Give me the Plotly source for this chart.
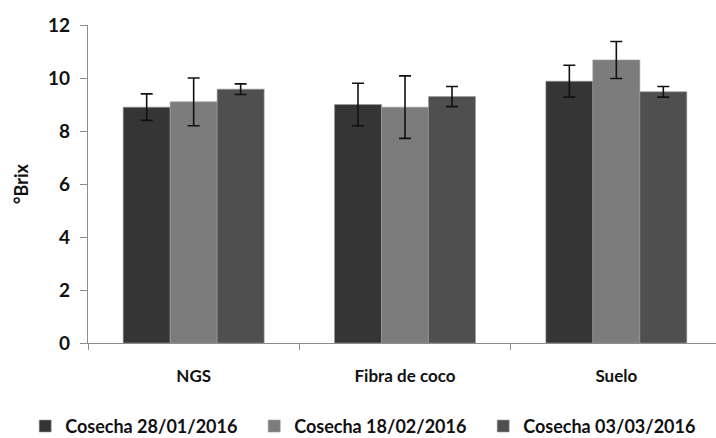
import plotly.graph_objects as go

# Sugar content (°Brix) by growing medium and harvest date
categories = ["NGS", "Fibra de coco", "Suelo"]
series_names = ["Cosecha 28/01/2016", "Cosecha 18/02/2016", "Cosecha 03/03/2016"]
values = [
    [8.9, 9.0, 9.88],
    [9.1, 8.9, 10.68],
    [9.58, 9.3, 9.48],
]
errors = [
    [0.5, 0.8, 0.6],
    [0.9, 1.18, 0.7],
    [0.2, 0.38, 0.2],
]
colors = ["#353535", "#7c7c7c", "#4f4f4f"]

FONT = "Lato"

fig = go.Figure()
for name, vals, errs, col in zip(series_names, values, errors, colors):
    fig.add_trace(go.Bar(
        name=name,
        x=categories,
        y=vals,
        marker=dict(color=col, line=dict(color="#9a9a9a", width=0.6)),
        error_y=dict(type="data", array=errs, visible=True,
                     color="#111111", thickness=1.6, width=6),
    ))

fig.update_layout(
    width=716, height=438,
    margin=dict(l=88, r=0, t=25, b=95, autoexpand=False),
    paper_bgcolor="white", plot_bgcolor="white",
    barmode="group", bargap=0.333, bargroupgap=0,
    font=dict(family=FONT, color="#111111"),
    showlegend=True,
    legend=dict(orientation="h", x=-0.1, xanchor="left", y=-0.262, yanchor="middle",
                font=dict(family=FONT, size=18, color="#111111", weight="bold"),
                itemwidth=30, tracegroupgap=0, entrywidth=184,
                traceorder="normal"),
    xaxis=dict(
        range=[-0.5, 2.4716],
        showline=True, linecolor="#8c8c8c", linewidth=1.2,
        ticks="outside", tickson="boundaries", ticklen=6, tickcolor="#8c8c8c",
        tickfont=dict(family=FONT, size=17, weight="bold", color="#111111"),
        ticklabelstandoff=17,
        showgrid=False, zeroline=False,
    ),
    yaxis=dict(
        range=[0, 12], dtick=2,
        showline=True, linecolor="#8c8c8c", linewidth=1.2,
        ticks="outside", ticklen=7, tickcolor="#8c8c8c",
        tickfont=dict(family=FONT, size=19, weight="bold", color="#111111"),
        ticklabelstandoff=6,
        showgrid=False, zeroline=False,
        title=dict(text="°Brix", standoff=14,
                   font=dict(family=FONT, size=18, weight="bold", color="#111111")),
    ),
)

fig.write_html("out.html")
